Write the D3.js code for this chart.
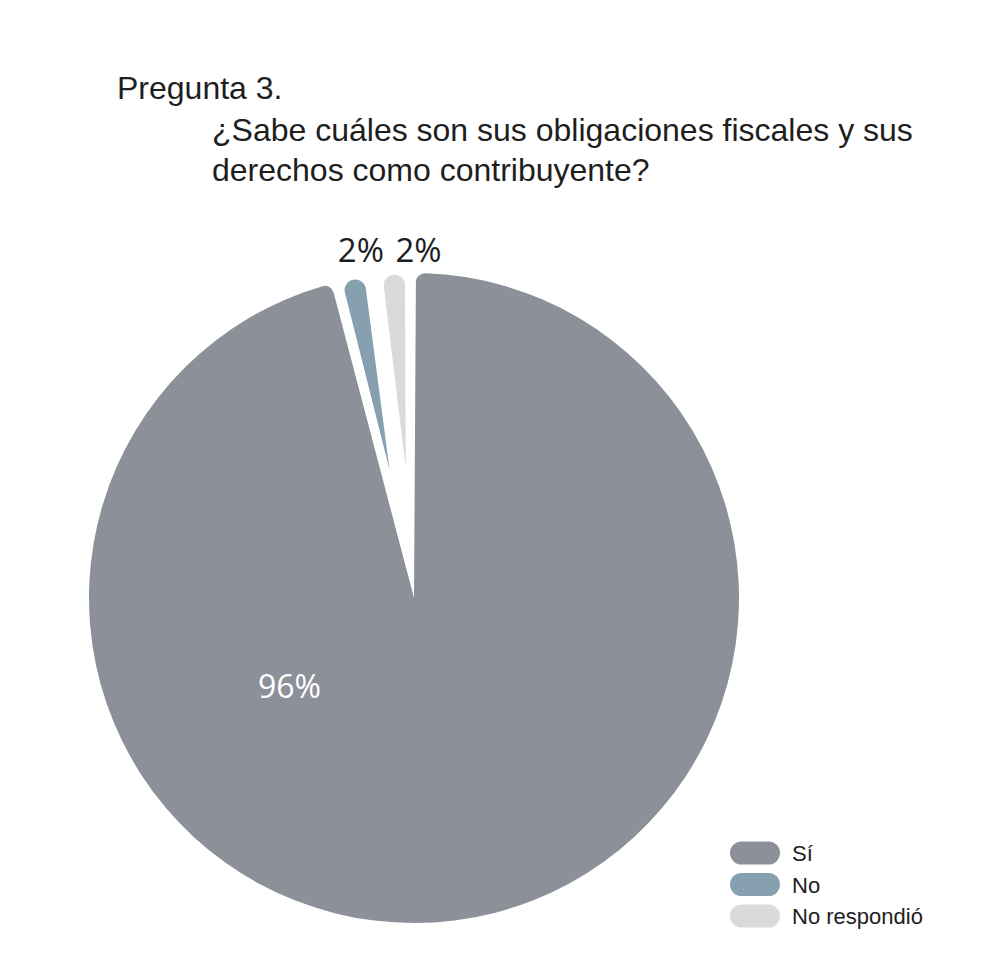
<!DOCTYPE html>
<html>
<head>
<meta charset="utf-8">
<script src="https://cdn.jsdelivr.net/npm/d3@7"></script>
<style>
  html, body { margin: 0; padding: 0; background: #ffffff; }
  svg { display: block; }
</style>
</head>
<body>
<script>
// Survey answers (percent of respondents)
const categories = ["Sí", "No", "No respondió"];
const values = [96, 2, 2];
const valueLabels = ["96%", "2%", "2%"];
const colors = ["#8c9199", "#87a0af", "#d9dbda"];

const titleLines = [
  "Pregunta 3.",
  "¿Sabe cuáles son sus obligaciones fiscales y sus",
  "derechos como contribuyente?"
];

const W = 984, H = 976;
const cx = 414, cy = 598, R = 325;

const svg = d3.select("body").append("svg")
  .attr("width", W).attr("height", H);

// Title
const title = svg.append("g")
  .attr("font-family", "'Liberation Sans', Arial, sans-serif")
  .attr("font-size", 32)
  .attr("fill", "#1e1e1e");
title.append("text").attr("x", 117).attr("y", 99).text(titleLines[0]);
title.append("text").attr("x", 212).attr("y", 141).text(titleLines[1]);
title.append("text").attr("x", 212).attr("y", 181).text(titleLines[2]);

// Pie layout
const data = categories.map((c, i) => ({ category: c, value: values[i], label: valueLabels[i], color: colors[i] }));
const pie = d3.pie().sort(null).value(d => d.value)
  .startAngle(0).endAngle(2 * Math.PI);
const arcs = pie(data);

// The large slice runs to the centre; the small ones are short pointed wedges
const arcBig = d3.arc().innerRadius(0).outerRadius(R)
  .padAngle(0.012).cornerRadius(9);
const arcSmall = d3.arc().innerRadius(130).outerRadius(R - 1)
  .padAngle(0.052).cornerRadius(14);

const g = svg.append("g").attr("transform", `translate(${cx},${cy})`);
g.selectAll("path.slice").data(arcs).join("path")
  .attr("class", "slice")
  .attr("fill", d => d.data.color)
  .attr("d", (d, i) => i === 0 ? arcBig(d) : arcSmall(d));

// Value labels
const labelFont = "'Open Sans', 'Noto Sans', sans-serif";
const bigLabelAngle = 235 * Math.PI / 180, bigLabelR = 152;
g.append("text")
  .attr("x", bigLabelR * Math.sin(bigLabelAngle))
  .attr("y", -bigLabelR * Math.cos(bigLabelAngle))
  .attr("text-anchor", "middle")
  .attr("dominant-baseline", "central")
  .attr("font-family", labelFont)
  .attr("font-size", 32)
  .attr("fill", "#ffffff")
  .text(arcs[0].data.label);

const smallLabelR = 342;
const smallDx = [11, 26];
g.selectAll("text.small").data(arcs.slice(1)).join("text")
  .attr("class", "small")
  .attr("x", (d, i) => smallLabelR * Math.sin((d.startAngle + d.endAngle) / 2) + smallDx[i])
  .attr("y", -336)
  .attr("text-anchor", "middle")
  .attr("font-family", labelFont)
  .attr("font-size", 33)
  .attr("fill", "#1e1e1e")
  .text(d => d.data.label);

// Legend
const legend = svg.append("g").attr("transform", "translate(730,853)");
const items = legend.selectAll("g").data(data).join("g")
  .attr("transform", (d, i) => `translate(0,${i * 31.5})`);
items.append("rect")
  .attr("x", 0).attr("y", -11.5).attr("width", 50).attr("height", 23)
  .attr("rx", 11.5).attr("ry", 11.5)
  .attr("fill", d => d.color);
items.append("text")
  .attr("x", 62).attr("y", 8)
  .attr("font-family", "'Liberation Sans', Arial, sans-serif")
  .attr("font-size", 22)
  .attr("fill", "#1e1e1e")
  .text(d => d.category);
</script>
</body>
</html>
